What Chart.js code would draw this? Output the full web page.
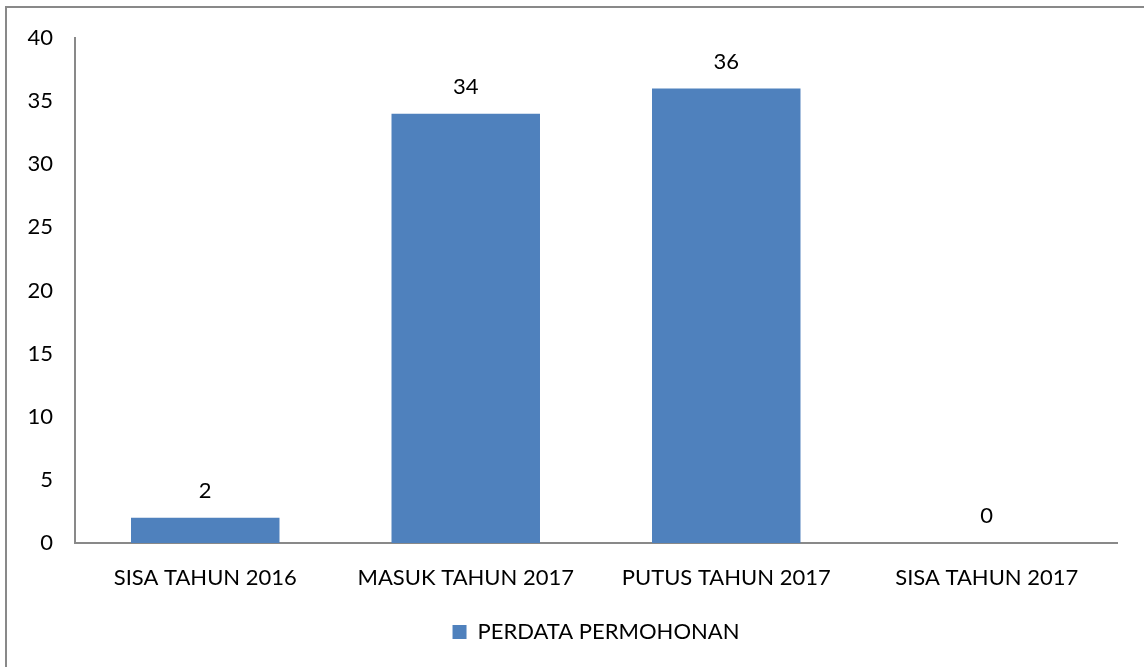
<!DOCTYPE html>
<html>
<head>
<meta charset="utf-8">
<script src="https://cdn.jsdelivr.net/npm/chart.js@4"></script>
<style>
  html, body { margin: 0; padding: 0; background: #fff; overflow: hidden; }
  #frame {
    position: absolute; left: 5px; top: 6px; width: 1160px; height: 700px;
    border-left: 2px solid #898989; border-top: 2px solid #898989;
  }
  #wrap { position: absolute; left: 0; top: 0; width: 1144px; height: 667px; }
</style>
</head>
<body>
<div id="frame"></div>
<div id="wrap"><canvas id="myChart"></canvas></div>
<script>
const categories = ['SISA TAHUN 2016', 'MASUK TAHUN 2017', 'PUTUS TAHUN 2017', 'SISA TAHUN 2017'];
const values = [2, 34, 36, 0];
const seriesName = 'PERDATA PERMOHONAN';
const yTicks = [0, 5, 10, 15, 20, 25, 30, 35, 40];

const FONT = 'Lato, "Open Sans", sans-serif';
const FSIZE = 22;

// value labels above each bar
const barLabels = {
  id: 'barLabels',
  afterDatasetsDraw(chart) {
    const ctx = chart.ctx;
    const meta = chart.getDatasetMeta(0);
    ctx.save();
    ctx.font = FSIZE + 'px ' + FONT;
    ctx.fillStyle = '#000';
    ctx.textAlign = 'center';
    ctx.textBaseline = 'middle';
    meta.data.forEach((bar, i) => {
      ctx.fillText(String(values[i]), bar.x, bar.y - 27);
    });
    ctx.restore();
  }
};

const data = {
  labels: categories,
  datasets: [{
    label: seriesName,
    backgroundColor: '#4F81BD',
    borderColor: '#4F81BD',
    data: values,
    barPercentage: 0.57,
    categoryPercentage: 1.0
  }]
};

const config = {
  type: 'bar',
  data: data,
  options: {
    responsive: true,
    maintainAspectRatio: false,
    animation: false,
    layout: { padding: { top: 38, right: 27, bottom: 14, left: 0 } },
    plugins: {
      legend: {
        position: 'bottom',
        fullSize: false,
        labels: {
          boxWidth: 14,
          boxHeight: 14,
          padding: 16,
          color: '#000',
          font: { family: FONT, size: FSIZE }
        }
      },
      tooltip: { enabled: false }
    },
    scales: {
      x: {
        grid: { display: false },
        border: { display: true, color: '#898989', width: 2 },
        ticks: { color: '#000', font: { family: FONT, size: FSIZE }, padding: 14, maxRotation: 0 },
        afterFit: (s) => { s.height = 62; }
      },
      y: {
        min: 0,
        max: 40,
        afterBuildTicks: (s) => { s.ticks = yTicks.map(v => ({ value: v })); },
        grid: { display: false },
        border: { display: true, color: '#898989', width: 2 },
        ticks: { color: '#000', font: { family: FONT, size: FSIZE }, padding: 14 },
        afterFit: (s) => { s.width = 75; }
      }
    }
  },
  plugins: [barLabels]
};

const myChart = new Chart(document.getElementById('myChart'), config);
</script>
</body>
</html>
